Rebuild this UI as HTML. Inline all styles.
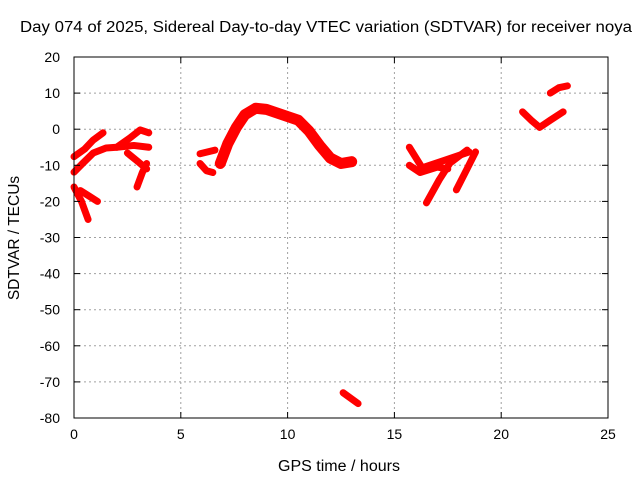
<!DOCTYPE html>
<html><head><meta charset="utf-8"><style>
body{margin:0;background:#fff;}
svg text{font-family:"Liberation Sans",sans-serif;font-size:14px;fill:#000;}
</style></head><body>
<svg id="chart" width="640" height="480" xmlns="http://www.w3.org/2000/svg">
<text x="20" y="32" style="font-size:15.5px" textLength="612" lengthAdjust="spacingAndGlyphs">Day 074 of 2025, Sidereal Day-to-day VTEC variation (SDTVAR) for receiver noya</text>
<g id="grid"></g><g id="data"></g><g id="axes"></g>
<text x="278" y="471" style="font-size:15.5px" textLength="122" lengthAdjust="spacingAndGlyphs">GPS time / hours</text>
<text transform="translate(19,238) rotate(-90)" text-anchor="middle" style="font-size:15.5px">SDTVAR / TECUs</text>
</svg>
<script>
const xTicks=[0,5,10,15,20,25];
const yTicks=[20,10,0,-10,-20,-30,-40,-50,-60,-70,-80];
const segA=[[0,-7.6],[0.5,-5.5],[0.9,-3],[1.36,-1]];
const segB=[[0,-11.9],[0.4,-9.5],[0.9,-6.6],[1.5,-5.2],[2.0,-5],[2.6,-2.5],[3.1,-0.2],[3.5,-1]];
const segB2=[[2.0,-5],[2.8,-4.5],[3.5,-5]];
const segB3=[[2.5,-6.6],[3.0,-9],[3.4,-11]];
const segB4=[[2.95,-16],[3.2,-12],[3.4,-9.5]];
const segC=[[0,-16],[0.35,-20],[0.66,-25]];
const segC2=[[0.3,-17],[0.7,-18.5],[1.1,-20]];
const segD=[[5.9,-6.8],[6.6,-5.8]];
const segD2=[[5.9,-9.5],[6.2,-11.5],[6.5,-12]];
const segArc=[[6.85,-9.5],[7.2,-4],[7.6,0.5],[8.0,4],[8.5,5.8],[9.0,5.5],[9.5,4.5],[10.0,3.5],[10.5,2.5],[11.0,-0.5],[11.5,-4.5],[12.0,-8],[12.5,-9.5],[13.0,-9]];
const segLow=[[12.6,-73],[13.3,-76]];
const segE=[[15.7,-5],[16.3,-10.7],[17.4,-8.5],[18.5,-6.3]];
const segE2=[[15.7,-10],[16.2,-12],[17.0,-10.5],[17.5,-11]];
const segE3=[[16.5,-20.4],[17.1,-14],[17.6,-9.4],[18.4,-5.8]];
const segE4=[[17.9,-16.8],[18.4,-11],[18.8,-6.3]];
const segF=[[21.0,4.8],[21.4,2.5],[21.8,0.5],[22.3,2.5],[22.9,4.8]];
const segG=[[22.3,10],[22.7,11.5],[23.1,12]];
const series=[segA,segB,segB2,segB3,segB4,segC,segC2,segD,segD2,segArc,segLow,segE,segE2,segE3,segE4,segF,segG];
const X0=74,X1=608,Y0=57,Y1=418;
function xs(h){return X0+(h-0)/(25-0)*(X1-X0);}
function ys(v){return Y0+(20-v)/(100)*(Y1-Y0);}
const NS="http://www.w3.org/2000/svg";
const grid=document.getElementById('grid'),axes=document.getElementById('axes'),data=document.getElementById('data');
function mk(tag,attrs,parent){const e=document.createElementNS(NS,tag);for(const k in attrs)e.setAttribute(k,attrs[k]);parent.appendChild(e);return e;}
xTicks.forEach(t=>{
 const x=xs(t);
 if(t>0&&t<25){const g=mk('line',{x1:x,x2:x,y1:Y0,y2:Y1,stroke:'#a0a0a0','stroke-dasharray':'2,3'},grid);
 
 }
 const tk=mk('line',{x1:x,x2:x,y1:Y1,y2:Y1-6,stroke:'#000'},axes);
 
 
 const tk2=mk('line',{x1:x,x2:x,y1:Y0,y2:Y0+6,stroke:'#000'},axes);
 
 
 const lb=mk('text',{x:x,y:Y1+21,'text-anchor':'middle'},axes);lb.textContent=t;
 
 
});
yTicks.forEach(t=>{
 const y=ys(t);
 if(t<20&&t>-80){const g=mk('line',{x1:X0,x2:X1,y1:y,y2:y,stroke:'#a0a0a0','stroke-dasharray':'2,3'},grid);
 
 }
 const tk=mk('line',{x1:X0,x2:X0+6,y1:y,y2:y,stroke:'#000'},axes);
 
 
 const tk2=mk('line',{x1:X1,x2:X1-6,y1:y,y2:y,stroke:'#000'},axes);
 
 
 const lb=mk('text',{x:X0-14,y:y+5,'text-anchor':'end'},axes);lb.textContent=t;
 
 
});
const fr=mk('rect',{x:X0,y:Y0,width:X1-X0,height:Y1-Y0,fill:'none',stroke:'#000'},axes);


series.forEach((s,i)=>{
 const p=mk('polyline',{points:s.map(d=>xs(d[0])+','+ys(d[1])).join(' '),fill:'none',stroke:'#ff0000','stroke-width':(s===segArc?11:7),'stroke-linecap':'round','stroke-linejoin':'round'},data);
 
 
});
</script>
</body></html>
